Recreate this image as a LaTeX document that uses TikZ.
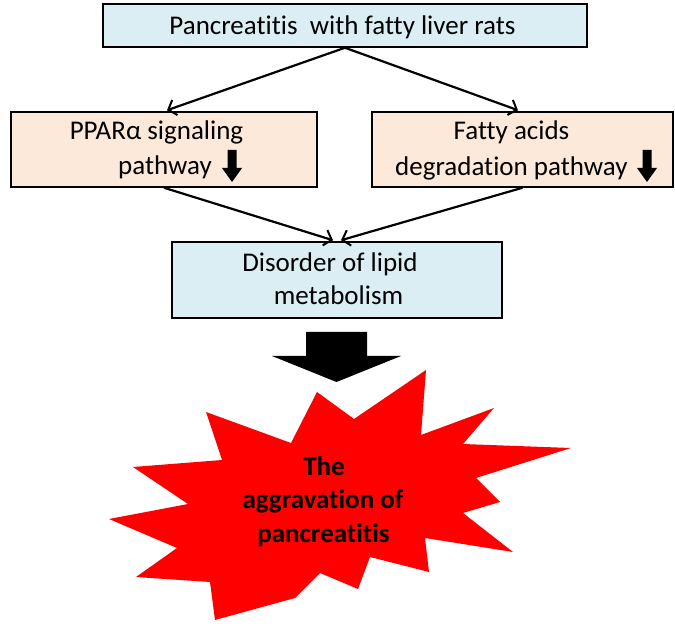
\documentclass[tikz,border=0pt]{standalone}
\usepackage{fontspec}
\setmainfont{Carlito}[RawFeature={-liga;-dlig;-clig}]
\usetikzlibrary{arrows.meta}
\definecolor{boxblue}{HTML}{DAEEF3}
\definecolor{boxpeach}{HTML}{FDE9D9}
\definecolor{starred}{HTML}{FF0000}
\begin{document}
\begin{tikzpicture}[x=1pt,y=-1pt,
  box/.style={draw=black, line width=1.5pt, rectangle, inner sep=0pt},
  bluebox/.style={box, fill=boxblue},
  peachbox/.style={box, fill=boxpeach},
  txt/.style={anchor=base, inner sep=0pt, font=\fontsize{27}{33}\selectfont, text=black},
  bigtxt/.style={anchor=base, inner sep=0pt, font=\bfseries\fontsize{27}{33}\selectfont, text=black},
  conn/.style={draw=black, line width=2.2pt, -{Straight Barb[length=7pt,width=16pt,line width=2pt]}},
  downarr/.pic={\fill[black] (-4.5,0) -- (4.5,0) -- (4.5,18) -- (10,18) -- (0,32) -- (-10,18) -- (-4.5,18) -- cycle;}
]
\useasboundingbox (0,0) rectangle (675,628);
\fill[white] (0,0) rectangle (675,628);

% boxes
\node[bluebox, minimum width=484pt, minimum height=43pt] (top) at (345,25.5) {};
\node[peachbox, minimum width=306pt, minimum height=75pt] (left) at (164,149.5) {};
\node[peachbox, minimum width=301pt, minimum height=75pt] (right) at (522.5,149.5) {};
\node[bluebox, minimum width=330pt, minimum height=76pt] (mid) at (337,280) {};

% texts
\node[txt] (toptext) at (342.5,35) {Pancreatitis\ \ with fatty liver rats};
\node[txt] (lefttext1) at (156.5,140) {PPARα signaling};
\node[txt, anchor=base west] (lefttext2) at (118,175) {pathway};
\pic at (232,150) {downarr};
\node[txt] (righttext1) at (511.5,140) {Fatty acids};
\node[txt, anchor=base west] (righttext2) at (395,176) {degradation pathway};
\pic at (647,150) {downarr};
\node[txt] (midtext1) at (330,272) {Disorder of lipid};
\node[txt] (midtext2) at (338.5,305) {metabolism};

% connectors
\draw[conn] (top.south) -- ([xshift=3pt,yshift=1pt]left.north);
\draw[conn] (top.south) -- ([xshift=-4.5pt,yshift=1pt]right.north);
\draw[conn] (left.south) -- ([xshift=-4pt,yshift=1pt]mid.north);
\draw[conn] (right.south) -- ([xshift=4pt,yshift=1pt]mid.north);

% big block arrow
\fill[black] (306,332) -- (367,332) -- (367,356) -- (401,356) -- (336.5,382) -- (272,356) -- (306,356) -- cycle;

% explosion star
\fill[starred] (133,467) -- (222,460) -- (206,412) -- (291,443) -- (317,392) -- (354,419)
  -- (426,370) -- (421,435) -- (494,408) -- (463,444) -- (571,448) -- (476,478)
  -- (500,502) -- (463,513) -- (513,552) -- (425,538) -- (429,572) -- (370,557)
  -- (358,589) -- (320,573) -- (295,598) -- (215,620) -- (210,582) -- (136,577)
  -- (177,548) -- (109,519) -- (188,504) -- cycle;

\node[bigtxt] (star1) at (324,475) {The};
\node[bigtxt] (star2) at (323,508) {aggravation of};
\node[bigtxt] (star3) at (323.5,542) {pancreatitis};
\end{tikzpicture}
\end{document}
